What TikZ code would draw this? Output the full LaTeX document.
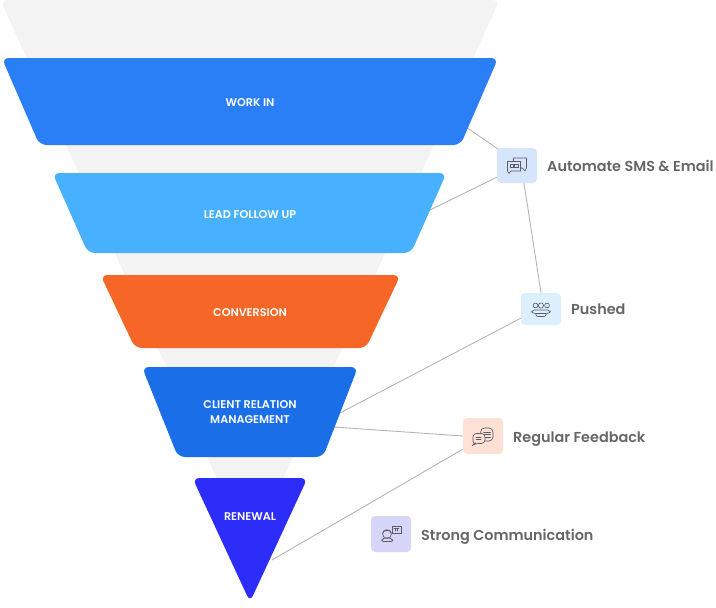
\documentclass[tikz,border=0pt]{standalone}
\usepackage{fontspec}
\setmainfont{Poppins}
\newfontfamily\medfont{Poppins SemiBold}
\definecolor{funnelgray}{HTML}{F3F3F3}
\definecolor{bandA}{HTML}{2A7FF7}
\definecolor{bandB}{HTML}{47B0FF}
\definecolor{bandC}{HTML}{F66627}
\definecolor{bandD}{HTML}{1A6FE8}
\definecolor{bandE}{HTML}{2D2DF9}
\definecolor{boxA}{HTML}{D6E5FB}
\definecolor{boxB}{HTML}{DCEFFF}
\definecolor{boxC}{HTML}{FFE0D5}
\definecolor{boxD}{HTML}{D6D6FB}
\definecolor{linkgray}{HTML}{B4B4B4}
\definecolor{labelgray}{HTML}{666666}
\definecolor{icongray}{HTML}{5A5A60}
\tikzset{
  x=1pt,y=-1pt,
  band/.style={rounded corners=7pt},
  bandtext/.style={text=white,font=\fontsize{11.2}{15}\selectfont\medfont,align=center,inner sep=0pt},
  iconbox/.style={rounded corners=4pt,minimum width=40pt,inner sep=0pt,draw=none},
  sidelabel/.style={text=labelgray,font=\fontsize{14.4}{17}\selectfont\medfont,anchor=base west,inner sep=0pt},
  link/.style={draw=linkgray,line width=0.9pt},
  ico/.style={draw=icongray,line width=0.65pt,line join=round,line cap=round}
}
\begin{document}
\begin{tikzpicture}
\useasboundingbox (0,0) rectangle (716,608);
% background funnel
\fill[funnelgray,rounded corners=7pt] (0.5,0) -- (499.5,0) -- (250,552) -- cycle;
% connectors endpoints
\coordinate (pA) at (466,127);
\coordinate (pB) at (430,210);
\coordinate (pD1) at (340,413);
\coordinate (pD2) at (334,427);
\coordinate (pE) at (272,560);
% icon boxes
\node[iconbox,fill=boxA,minimum height=35pt] (bA) at (517,165.5) {};
\node[iconbox,fill=boxB,minimum height=32pt] (bB) at (541,309) {};
\node[iconbox,fill=boxC,minimum height=36pt] (bC) at (483,436) {};
\node[iconbox,fill=boxD,minimum height=36pt] (bD) at (391,534) {};
\coordinate (qA) at ([xshift=7pt]bA.south);
% connectors
\draw[link] (pA) -- ([xshift=1.5pt,yshift=-1.5pt]bA.north west);
\draw[link] (pB) -- ([yshift=6pt]bA.south west);
\draw[link] (qA) -- (bB.north);
\draw[link] (pD1) -- ([yshift=7pt]bB.south west);
\draw[link] (pD2) -- (bC.west);
\draw[link] (pE) -- ([yshift=5pt]bC.south west);
% bands
\fill[bandA,band] (1.8,58) -- (498.2,58) -- (460.5,145) -- (39.5,145) -- cycle;
\fill[bandB,band] (52.5,173) -- (446.5,173) -- (411,253) -- (88,253) -- cycle;
\fill[bandC,band] (100.5,275) -- (400.5,275) -- (366,348) -- (135,348) -- cycle;
\fill[bandD,band] (142,367) -- (358,367) -- (323,457) -- (178,457) -- cycle;
\fill[bandE,band] (192.5,478) -- (307.5,478) -- (250,602) -- cycle;
% band labels
\node[bandtext] (tA) at (250,102.5) {WORK IN};
\node[bandtext] (tB) at (250,214.5) {LEAD FOLLOW UP};
\node[bandtext] (tC) at (250,312.5) {CONVERSION};
\node[bandtext] (tD) at (250,412) {CLIENT RELATION\\MANAGEMENT};
\node[bandtext] (tE) at (250,516.5) {RENEWAL};
% side labels
\node[sidelabel] (lA) at (547,171) {Automate SMS \& Email};
\node[sidelabel] (lB) at (571,314) {Pushed};
\node[sidelabel] (lC) at (513,442) {Regular Feedback};
\node[sidelabel] (lD) at (421,540) {Strong Communication};
% icon A
\draw[ico,fill=boxA] (513.5,158) -- (526.5,158) -- (526.5,168) -- (525,171) -- (522.5,168) -- (513.5,168) -- cycle;
\draw[ico,fill=boxA] (507.5,161.5) -- (520.5,161.5) -- (520.5,171) -- (511,171) -- (509,173.5) -- (507.5,171) -- cycle;
\draw[ico,line width=0.5pt] (510,164.5) rectangle (513,167) (514.5,164.5) rectangle (518,167);
% icon B
\foreach \cx in {535.5,547}{\draw[ico] (\cx,305.5) circle (2.4pt);}
\draw[ico] (541,305.5) circle (2.6pt);
\draw[ico,rounded corners=2pt] (531.5,313) -- (532,310) -- (550,310) -- (550.5,313) -- (546,313) -- (546,316.5) -- (536,316.5) -- (536,313) -- cycle;
\draw[ico,line width=0.5pt] (536,313) -- (546,313);
% icon C
\draw[ico,fill=boxC,rounded corners=4pt] (480.5,428) -- (493,428) -- (493,441) -- (481,441) -- cycle;
\draw[ico,line width=0.5pt] (483.5,432) -- (490.5,432) (483.5,434.5) -- (490.5,434.5) (483.5,437) -- (490.5,437);
\draw[ico,fill=boxC,rounded corners=3.5pt] (473,433.5) -- (485,433.5) -- (485,443.5) -- (475,443.5) -- (473,445) -- cycle;
\draw[ico,line width=0.5pt] (476,437) -- (481,437) (476,439.5) -- (481,439.5);
% icon D
\draw[ico] (387,534) circle (4.4pt);
\draw[ico] (382.6,533) .. controls (384,529.5) and (390,529.5) .. (391.4,533);
\draw[ico,rounded corners=2pt] (381.5,541.5) -- (382,538.8) -- (385,538) -- (389,538) -- (392.5,538.8) -- (393,541.5) -- cycle;
\draw[ico] (392,526) rectangle (401,533.5);
\draw[ico,line width=0.5pt] (394,528.5) -- (399,528.5) (395,528.5) -- (395,531) (397.5,528.5) -- (397.5,531);
\end{tikzpicture}
\end{document}
